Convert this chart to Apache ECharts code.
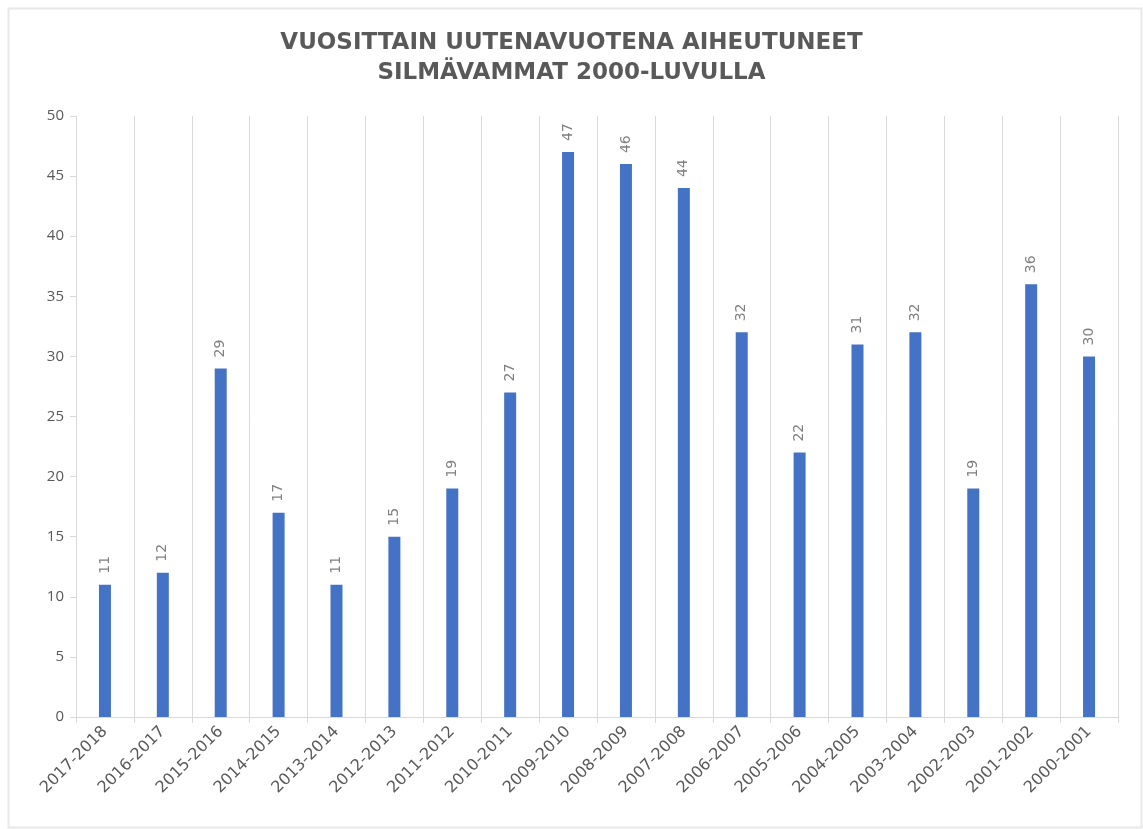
<!DOCTYPE html>
<html><head><meta charset="utf-8">
<script src="https://cdn.jsdelivr.net/npm/echarts@6/dist/echarts.min.js"></script>
<style>html,body{margin:0;padding:0;background:#fff}#c{width:1143px;height:829px}</style>
</head><body><div id="c"></div>
<script>
const categories = ["2017-2018","2016-2017","2015-2016","2014-2015","2013-2014","2012-2013","2011-2012","2010-2011","2009-2010","2008-2009","2007-2008","2006-2007","2005-2006","2004-2005","2003-2004","2002-2003","2001-2002","2000-2001"];
const values = [11,12,29,17,11,15,19,27,47,46,44,32,22,31,32,19,36,30];
const titleLines = ["VUOSITTAIN UUTENAVUOTENA AIHEUTUNEET","SILMÄVAMMAT 2000-LUVULLA"];

const chart = echarts.init(document.getElementById('c'), null, {renderer:'canvas'});
chart.setOption({
  backgroundColor:'#fff',
  animation:false,
  graphic:[{
    type:'rect', left:6, top:6, silent:true,
    shape:{width:1133, height:819},
    style:{fill:'none', stroke:'#e8e8e8', lineWidth:2}
  }],
  title:{
    text: titleLines.join('\n'),
    left:'center', top:23,
    textStyle:{fontFamily:'DejaVu Sans', fontWeight:'bold', fontSize:23, color:'#595959', lineHeight:30}
  },
  grid:{left:76, right:25, top:116, bottom:112, containLabel:false},
  xAxis:{
    type:'category', data:categories, boundaryGap:true,
    axisLine:{show:true, lineStyle:{color:'#d9d9d9', width:1}},
    axisTick:{show:true, length:6, lineStyle:{color:'#d9d9d9'}},
    splitLine:{show:true, lineStyle:{color:'#d9d9d9', width:1}},
    axisLabel:{rotate:45, margin:12, fontFamily:'DejaVu Sans', fontSize:16, color:'#595959', interval:0}
  },
  yAxis:{
    type:'value', min:0, max:50, interval:5,
    axisLine:{show:true, lineStyle:{color:'#d9d9d9', width:1}},
    axisTick:{show:true, length:6, lineStyle:{color:'#d9d9d9'}},
    splitLine:{show:false},
    axisLabel:{margin:12, fontFamily:'Open Sans', fontSize:15, color:'#595959'}
  },
  series:[{
    type:'bar', data:values, barWidth:12,
    itemStyle:{color:'#4472C4'},
    label:{show:true, position:'top', rotate:90, align:'left', verticalAlign:'middle', distance:11,
      fontFamily:'DejaVu Sans', fontSize:14, color:'#7f7f7f'}
  }]
});
</script></body></html>
